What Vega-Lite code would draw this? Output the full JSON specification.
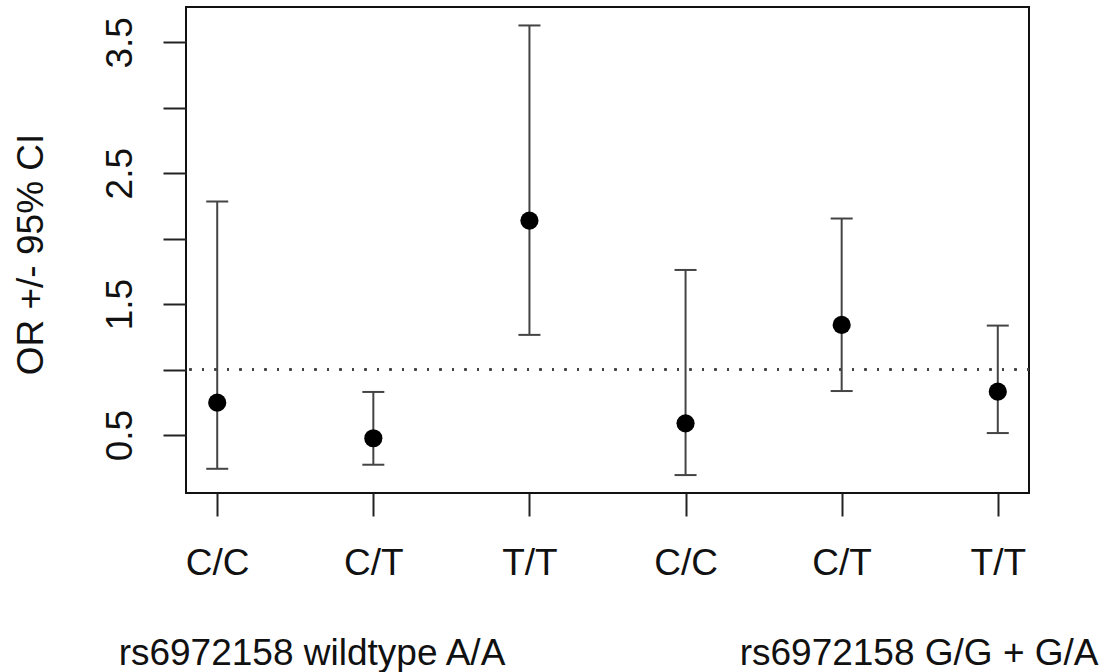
{
  "$schema": "https://vega.github.io/schema/vega-lite/v6.json",
  "width": 843,
  "height": 486,
  "autosize": {"type": "none"},
  "padding": {"left": 186, "top": 7, "right": 76, "bottom": 179},
  "background": "white",
  "config": {"view": {"stroke": "#111", "strokeWidth": 2}, "font": "Liberation Sans"},
  "data": {"values": [
    {"x": 1, "geno": "C/C", "or": 0.747, "lo": 0.242, "hi": 2.284},
    {"x": 2, "geno": "C/T", "or": 0.475, "lo": 0.273, "hi": 0.829},
    {"x": 3, "geno": "T/T", "or": 2.138, "lo": 1.265, "hi": 3.629},
    {"x": 4, "geno": "C/C", "or": 0.589, "lo": 0.194, "hi": 1.761},
    {"x": 5, "geno": "C/T", "or": 1.341, "lo": 0.836, "hi": 2.154},
    {"x": 6, "geno": "T/T", "or": 0.831, "lo": 0.515, "hi": 1.336}
  ]},
  "layer": [
    {
      "mark": {"type": "rule", "strokeDash": [2, 10.5], "strokeWidth": 2, "color": "#444"},
      "encoding": {
        "y": {"datum": 1, "type": "quantitative", "scale": {"domain": [0.057, 3.77], "nice": false, "zero": false}, "title": "OR +/- 95% CI",
          "axis": {"values": [0.5, 1, 1.5, 2, 2.5, 3, 3.5], "labelExpr": "datum.value % 1 == 0.5 ? datum.label : ''", "grid": false, "domain": false, "tickSize": 23, "tickWidth": 2, "tickColor": "#222", "labelAngle": 270, "labelAlign": "center", "labelBaseline": "alphabetic", "labelPadding": 32, "labelFontSize": 37, "labelFont": "Liberation Sans", "labelColor": "#111", "labelOverlap": false, "labelFlush": false, "titleFontSize": 37, "titleFont": "Liberation Sans", "titleFontWeight": "normal", "titleColor": "#111", "titleAngle": 270, "titleAlign": "center", "titleBaseline": "alphabetic", "titleX": -144, "titleY": 247}}
      }
    },
    {
      "mark": {"type": "rule", "strokeWidth": 2, "color": "#444"},
      "encoding": {
        "x": {"field": "x", "type": "quantitative", "scale": {"domain": [0.8, 6.2], "nice": false, "zero": false}, "title": null,
          "axis": {"values": [1, 2, 3, 4, 5, 6], "labelExpr": "['C/C','C/T','T/T','C/C','C/T','T/T'][datum.value-1]", "grid": false, "domain": false, "tickSize": 23, "tickWidth": 2, "tickColor": "#222", "labelAngle": 0, "labelAlign": "center", "labelBaseline": "alphabetic", "labelPadding": 58, "labelFontSize": 37, "labelFont": "Liberation Sans", "labelColor": "#111", "labelOverlap": false, "labelFlush": false}},
        "y": {"field": "lo", "type": "quantitative", "scale": {"domain": [0.057, 3.77], "nice": false, "zero": false}, "title": "OR +/- 95% CI"},
        "y2": {"field": "hi"}
      }
    },
    {
      "mark": {"type": "tick", "orient": "horizontal", "size": 22, "thickness": 2, "color": "#444", "opacity": 1},
      "encoding": {
        "x": {"field": "x", "type": "quantitative", "scale": {"domain": [0.8, 6.2], "nice": false, "zero": false}, "title": null},
        "y": {"field": "lo", "type": "quantitative", "scale": {"domain": [0.057, 3.77], "nice": false, "zero": false}, "title": "OR +/- 95% CI"}
      }
    },
    {
      "mark": {"type": "tick", "orient": "horizontal", "size": 22, "thickness": 2, "color": "#444", "opacity": 1},
      "encoding": {
        "x": {"field": "x", "type": "quantitative", "scale": {"domain": [0.8, 6.2], "nice": false, "zero": false}, "title": null},
        "y": {"field": "hi", "type": "quantitative", "scale": {"domain": [0.057, 3.77], "nice": false, "zero": false}, "title": "OR +/- 95% CI"}
      }
    },
    {
      "mark": {"type": "point", "filled": true, "shape": "circle", "size": 330, "color": "#000", "opacity": 1},
      "encoding": {
        "x": {"field": "x", "type": "quantitative", "scale": {"domain": [0.8, 6.2], "nice": false, "zero": false}, "title": null},
        "y": {"field": "or", "type": "quantitative", "scale": {"domain": [0.057, 3.77], "nice": false, "zero": false}, "title": "OR +/- 95% CI"}
      }
    },
    {
      "data": {"values": [
        {"lab": "rs6972158 wildtype A/A", "pos": 1.607},
        {"lab": "rs6972158 G/G + G/A", "pos": 5.496}
      ]},
      "mark": {"type": "text", "fontSize": 37, "font": "Liberation Sans", "baseline": "alphabetic", "align": "center", "color": "#111"},
      "encoding": {
        "x": {"field": "pos", "type": "quantitative", "scale": {"domain": [0.8, 6.2], "nice": false, "zero": false}, "title": null},
        "y": {"datum": -1.257, "type": "quantitative", "scale": {"domain": [0.057, 3.77], "nice": false, "zero": false}, "title": "OR +/- 95% CI"},
        "text": {"field": "lab"}
      }
    }
  ]
}
